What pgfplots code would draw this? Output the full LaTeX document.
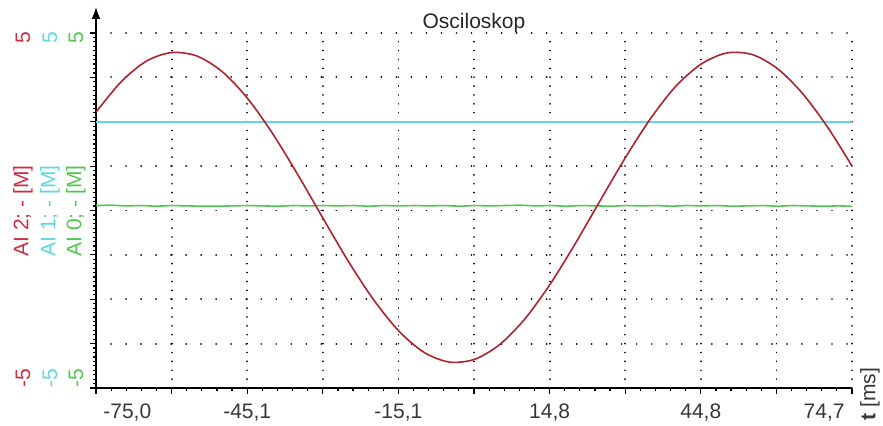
\documentclass[border=0pt]{standalone}
\usepackage{pgfplots}
\pgfplotsset{compat=1.18}
\usepackage{fontspec}
\setmainfont{Liberation Sans}
\usetikzlibrary{arrows.meta}
\definecolor{ai2}{RGB}{175, 35, 45}
\definecolor{ai2lbl}{RGB}{205, 45, 65}
\definecolor{ai1}{RGB}{95, 215, 225}
\definecolor{ai0}{RGB}{80, 200, 80}
\definecolor{ticktxt}{RGB}{55, 55, 55}

\begin{document}
\begin{tikzpicture}
  \fontsize{10.5}{12}\selectfont

  \begin{axis}[
      at={(0,0)}, anchor=south west,
      scale only axis, width=378pt, height=177.5pt,
      xmin=-75, xmax=74.7,
      ymin=-5, ymax=5,
      axis x line=bottom, axis y line=left,
      x axis line style={-, line width=0.8pt},
      y axis line style={-, line width=0.8pt},
      xtick={-75,-60.03,-45.06,-30.09,-15.12,-0.15,14.82,29.79,44.76,59.73,74.7},
      ytick={-5,-3.75,-2.5,-1.25,0,1.25,2.5,3.75,5},
      xticklabels={}, yticklabels={},
      minor x tick num=4, minor y tick num=9,
      tick align=outside,
      major tick length=3pt, minor tick length=1.5pt,
      tick style={black, line width=0.6pt},
      xmajorgrids, ymajorgrids,
      major x grid style={black, line width=0.9pt, line cap=round,
                          dash pattern=on 0.01pt off 4.43pt},
      major y grid style={black, line width=0.9pt, line cap=round,
                          dash pattern=on 0.01pt off 7.5pt},
      clip=false,
  ]

    % AI 0 (green, nearly flat with small noise)
    \addplot[ai0, line width=0.8pt] coordinates {
      (-75,0.14) (-72,0.15) (-69,0.13) (-66,0.14) (-63,0.12) (-60,0.14)
      (-57,0.13) (-54,0.12) (-51,0.12) (-48,0.13) (-45,0.14) (-42,0.13)
      (-39,0.12) (-36,0.14) (-33,0.13) (-30,0.14) (-27,0.13) (-24,0.14)
      (-21,0.12) (-18,0.14) (-15,0.13) (-12,0.14) (-9,0.13) (-6,0.14)
      (-3,0.12) (0,0.14) (3,0.13) (6,0.14) (9,0.15) (12,0.13)
      (15,0.14) (18,0.12) (21,0.14) (24,0.13) (27,0.12) (30,0.14)
      (33,0.13) (36,0.14) (39,0.12) (42,0.14) (45,0.13) (48,0.14)
      (51,0.12) (54,0.13) (57,0.14) (60,0.12) (63,0.14) (66,0.13)
      (69,0.12) (72,0.13) (74.7,0.12)
    };

    % AI 1 (cyan, constant)
    \addplot[ai1, line width=1.1pt] coordinates {(-75,2.5) (74.7,2.5)};

    % AI 2 (red sine)
    \addplot[ai2, line width=0.8pt, smooth] coordinates {
      (-75,2.77) (-70,3.63) (-65,4.21) (-60,4.45) (-55,4.35) (-50,3.91)
      (-45,3.16) (-40,2.16) (-35,1.00) (-30,-0.23) (-25,-1.44) (-20,-2.52)
      (-15,-3.40) (-10,-4.00) (-5,-4.27) (0,-4.19) (5,-3.77) (10,-3.04)
      (15,-2.06) (20,-0.91) (25,0.32) (30,1.53) (35,2.63) (40,3.53)
      (45,4.14) (50,4.44) (55,4.39) (60,3.99) (65,3.28) (70,2.32)
      (74.7,1.25)
    };

    % y axis arrow above the plot area
    \draw[line width=0.8pt, -{Latex[length=6pt, width=4.5pt]}]
      (axis cs:-75,5) -- ([yshift=13pt]axis cs:-75,5);

    % x tick labels
    \node[ticktxt, anchor=base west] at ([yshift=-15pt]axis cs:-75,-5) {-75,0};
    \node[ticktxt, anchor=base] at ([yshift=-15pt]axis cs:-45.06,-5) {-45,1};
    \node[ticktxt, anchor=base] at ([yshift=-15pt]axis cs:-15.12,-5) {-15,1};
    \node[ticktxt, anchor=base] at ([yshift=-15pt]axis cs:14.82,-5) {14,8};
    \node[ticktxt, anchor=base] at ([yshift=-15pt]axis cs:44.76,-5) {44,8};
    \node[ticktxt, anchor=base east] at ([yshift=-15pt]axis cs:74.7,-5) {74,7};
  \end{axis}

  % title
  \node[black!85, anchor=base] at (189pt,180pt) {Osciloskop};

  % y tick labels and channel names (rotated)
  \node[ai2lbl, rotate=90] at (-36.5pt,175pt) {5};
  \node[ai1, rotate=90] at (-23pt,175pt) {5};
  \node[ai0, rotate=90] at (-10pt,175pt) {5};
  \node[ai2lbl, rotate=90] at (-36.5pt,5pt) {-5};
  \node[ai1, rotate=90] at (-23pt,5pt) {-5};
  \node[ai0, rotate=90] at (-10pt,5pt) {-5};
  \node[ai2lbl, rotate=90] at (-36.5pt,88.5pt) {AI 2; - [M]};
  \node[ai1, rotate=90] at (-23pt,88.5pt) {AI 1; - [M]};
  \node[ai0, rotate=90] at (-10pt,88.5pt) {AI 0; - [M]};

  % x axis label
  \node[ticktxt, rotate=90, anchor=west, inner sep=1pt] at (387pt,-17.5pt) {\textbf{t} [ms]};

  \pgfresetboundingbox
  \path[use as bounding box] (-48pt,-18.5pt) rectangle (393.5pt,194pt);
\end{tikzpicture}
\end{document}
